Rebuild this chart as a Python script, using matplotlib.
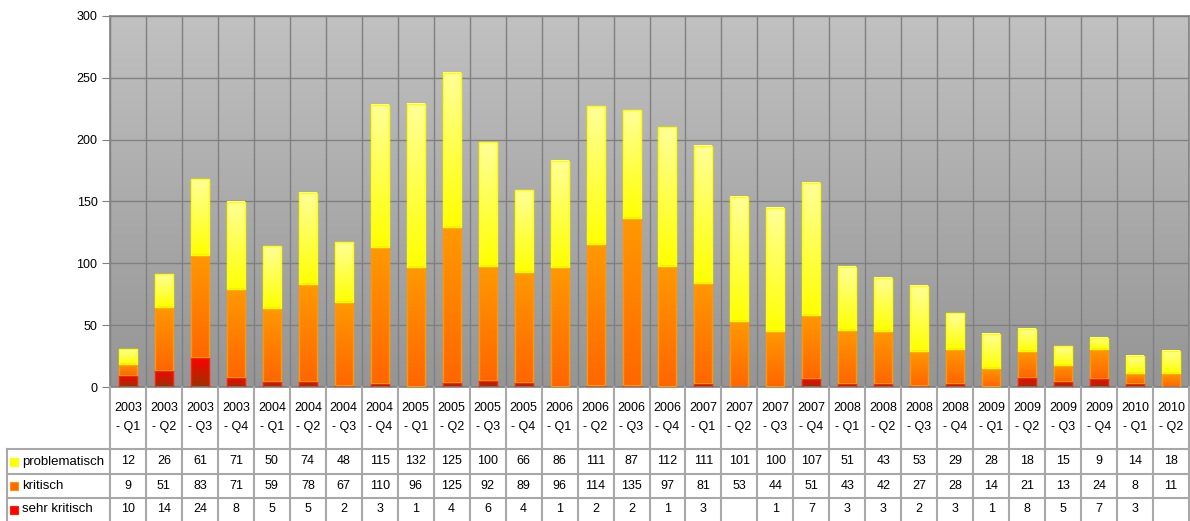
import numpy as np
import matplotlib
matplotlib.use("Agg")
import matplotlib.pyplot as plt
from matplotlib.colors import LinearSegmentedColormap

plt.rcParams['font.family'] = ['Liberation Sans', 'DejaVu Sans']

# data
quartale = ["2003 - Q1", "2003 - Q2", "2003 - Q3", "2003 - Q4",
            "2004 - Q1", "2004 - Q2", "2004 - Q3", "2004 - Q4",
            "2005 - Q1", "2005 - Q2", "2005 - Q3", "2005 - Q4",
            "2006 - Q1", "2006 - Q2", "2006 - Q3", "2006 - Q4",
            "2007 - Q1", "2007 - Q2", "2007 - Q3", "2007 - Q4",
            "2008 - Q1", "2008 - Q2", "2008 - Q3", "2008 - Q4",
            "2009 - Q1", "2009 - Q2", "2009 - Q3", "2009 - Q4",
            "2010 - Q1", "2010 - Q2"]
problematisch = [12, 26, 61, 71, 50, 74, 48, 115, 132, 125, 100, 66, 86, 111, 87,
                 112, 111, 101, 100, 107, 51, 43, 53, 29, 28, 18, 15, 9, 14, 18]
kritisch = [9, 51, 83, 71, 59, 78, 67, 110, 96, 125, 92, 89, 96, 114, 135,
            97, 81, 53, 44, 51, 43, 42, 27, 28, 14, 21, 13, 24, 8, 11]
sehr_kritisch = [10, 14, 24, 8, 5, 5, 2, 3, 1, 4, 6, 4, 1, 2, 2,
                 1, 3, 0, 1, 7, 3, 3, 2, 3, 1, 8, 5, 7, 3, 0]

# stacking order bottom -> top, (name, values, bottom colour, top colour, edge)
serien = [
    ("sehr kritisch", sehr_kritisch, "#993300", "#ff0000", "#ff2200"),
    ("kritisch", kritisch, "#ff6600", "#ff9900", "#ff9900"),
    ("problematisch", problematisch, "#ffff00", "#ffff99", "#ffff00"),
]

W, H = 1190, 521
fig = plt.figure(figsize=(W / 100, H / 100), dpi=100)

x0, x1 = 110, 1189
y_top, y_zero = 16, 387
ax = fig.add_axes([x0 / W, (H - y_zero) / H, (x1 - x0) / W, (y_zero - y_top) / H])

n = len(quartale)
xs = np.arange(n)
grad = np.linspace(1, 0, 256)[:, None]

# plot background gradient
bg = LinearSegmentedColormap.from_list("bg", ["#959595", "#c1c1c1"])
ax.imshow(grad, extent=(-0.5, n - 0.5, 0, 300), aspect="auto", cmap=bg, zorder=0)

bottom = np.zeros(n)
for name, vals, c_bot, c_top, edge in serien:
    vals = np.array(vals, dtype=float)
    cm = LinearSegmentedColormap.from_list(name, [c_bot, c_top])
    bars = ax.bar(xs, vals, width=0.5, bottom=bottom, facecolor="none",
                  edgecolor=edge, linewidth=1, zorder=3)
    for xi, b, v in zip(xs, bottom, vals):
        if v <= 0:
            continue
        ax.imshow(grad, extent=(xi - 0.25, xi + 0.25, b, b + v), aspect="auto",
                  cmap=cm, zorder=2, interpolation="bilinear")
    bottom += vals

ax.set_xlim(-0.5, n - 0.5)
ax.set_ylim(0, 300)
ax.set_yticks(np.arange(0, 301, 50))
ax.set_xticks(np.arange(-0.5, n, 1))
ax.set_xticklabels([])
ax.tick_params(axis="x", length=0)
ax.tick_params(axis="y", length=6, color="#808080", labelsize=9, pad=3)
ax.grid(True, color="#808080", linewidth=1, zorder=1)
ax.set_axisbelow(True)
for s in ax.spines.values():
    s.set_color("#808080")
    s.set_linewidth(1.2)

# data table under the plot, drawn in pixel coordinates
tb = fig.add_axes([0, 0, 1, 1])
tb.set_xlim(0, W)
tb.set_ylim(H, 0)
tb.axis("off")
tb.patch.set_visible(False)

cw = (x1 - x0) / n
line_c = "#a8a8a8"
rows_y = [449, 474, 498, 521]
for i in range(n + 1):
    xl = x0 + i * cw
    tb.plot([xl, xl], [y_zero, H], color=line_c, lw=1.5)
tb.plot([7, 7], [rows_y[0], H], color=line_c, lw=1.5)
for yl in rows_y[:3]:
    tb.plot([7, x1], [yl, yl], color=line_c, lw=1.5)

for i, q in enumerate(quartale):
    xc = x0 + (i + 0.5) * cw
    jahr, qt = q.split(" - ")
    tb.text(xc, 408, jahr, ha="center", va="center", fontsize=9)
    tb.text(xc, 427, "- " + qt, ha="center", va="center", fontsize=9)

table_rows = [serien[2], serien[1], serien[0]]
for r, (name, vals, c_bot, c_top, edge) in enumerate(table_rows):
    yc = (rows_y[r] + rows_y[r + 1]) / 2
    tb.add_patch(plt.Rectangle((10, yc - 4), 8, 8, facecolor=c_top if r == 2 else c_bot,
                               edgecolor=edge, lw=0.8))
    tb.text(22, yc, name, ha="left", va="center", fontsize=9.5)
    for i, v in enumerate(vals):
        xc = x0 + (i + 0.5) * cw
        tb.text(xc, yc, str(v) if v else "", ha="center", va="center", fontsize=9)

fig.savefig("out.png", dpi=100)
